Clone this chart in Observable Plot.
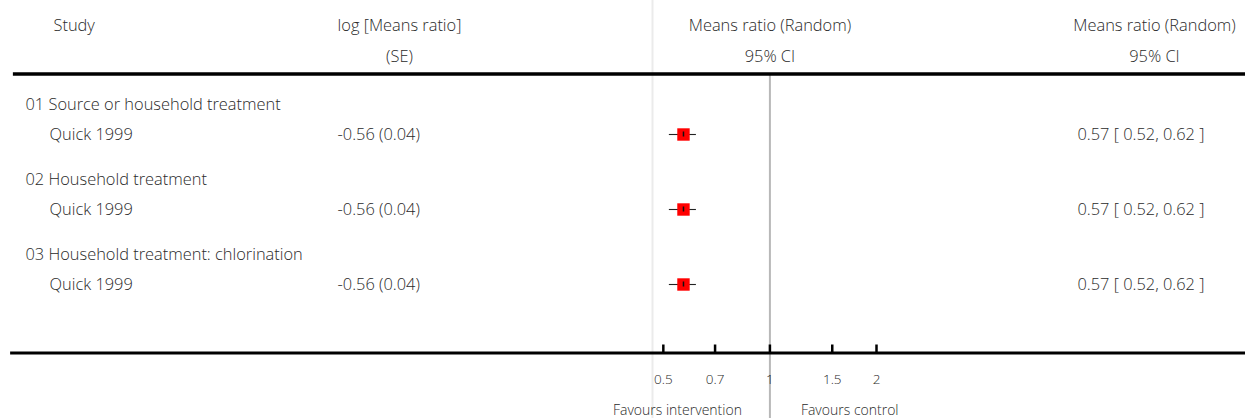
<!DOCTYPE html>
<html>
<head>
<meta charset="utf-8">
<script src="https://cdn.jsdelivr.net/npm/d3@7"></script>
<script src="https://cdn.jsdelivr.net/npm/@observablehq/plot@0.6"></script>
<style>
  html, body { margin: 0; padding: 0; background: #fff; }
  svg { display: block; }
</style>
</head>
<body>
<div id="chart"></div>
<script>
// ---- data ----
const groups = ["01 Source or household treatment", "02 Household treatment", "03 Household treatment: chlorination"];
const studies = ["Quick 1999", "Quick 1999", "Quick 1999"];
const logMeansRatio = [-0.56, -0.56, -0.56];
const logSE = [0.04, 0.04, 0.04];
const ratio = [0.57, 0.57, 0.57];
const ciLow = [0.52, 0.52, 0.52];
const ciHigh = [0.62, 0.62, 0.62];
const tickValues = [0.5, 0.7, 1, 1.5, 2];
const tickLabels = ["0.5", "0.7", "1", "1.5", "2"];
const headers1 = ["Study", "log [Means ratio]", "Means ratio (Random)", "Means ratio (Random)"];
const headers2 = ["", "(SE)", "95% CI", "95% CI"];
const favours = ["Favours intervention", "Favours control"];

// ---- layout (pixels) ----
const W = 1245, H = 418;
const groupY = i => 104 + 75 * i;
const studyY = i => 134 + 75 * i;
const topRuleY = 73.5, bottomRuleY = 352.5;
const font = "'Open Sans', Lato, sans-serif";
const ink = "#2a2a2a";
const fw = 300;
const fs = 16.4;

const rows = groups.map((g, i) => ({
  group: g, study: studies[i], lmr: logMeansRatio[i], se: logSE[i],
  r: ratio[i], lo: ciLow[i], hi: ciHigh[i], gy: groupY(i), sy: studyY(i)
}));
const fmt2 = v => d3.format(".2f")(v).replace("\u2212", "-");

const T = (data, opts) => Plot.text(data, {fontSize: fs, fill: ink, fontWeight: fw, ...opts});

const chart = Plot.plot({
  width: W, height: H,
  marginTop: 0, marginBottom: 0, marginLeft: 0, marginRight: 0,
  style: {fontFamily: font, color: ink, background: "#fff"},
  x: {type: "log", domain: [0.466, 2], range: [652, 876], axis: null},
  y: {type: "linear", domain: [0, H], range: [0, H], axis: null},
  marks: [
    // panel boundary and line of no effect
    Plot.ruleX([0.466], {y1: 0, y2: H, stroke: "#ebebeb", strokeWidth: 2}),
    Plot.ruleX([1], {y1: topRuleY, y2: H, stroke: "#b8b8b8", strokeWidth: 2}),
    // header rules
    Plot.ruleY([topRuleY], {x1: 0.0073, x2: 25, stroke: "#000", strokeWidth: 3.5}),
    Plot.ruleY([bottomRuleY], {x1: 0.00717, x2: 25, stroke: "#000", strokeWidth: 3}),
    // header texts
    T([headers1[0]], {frameAnchor: "left", dx: 53, y: 25, text: d => d, textAnchor: "start"}),
    T([headers1[1]], {frameAnchor: "left", dx: 399, y: 25, text: d => d, textAnchor: "middle"}),
    T([headers2[1]], {frameAnchor: "left", dx: 399, y: 56, text: d => d, textAnchor: "middle"}),
    T([headers1[2]], {x: 1, y: 25, text: d => d, textAnchor: "middle"}),
    T([headers2[2]], {x: 1, y: 56, text: d => d, textAnchor: "middle"}),
    T([headers1[3]], {frameAnchor: "left", dx: 1154, y: 25, text: d => d, textAnchor: "middle"}),
    T([headers2[3]], {frameAnchor: "left", dx: 1154, y: 56, text: d => d, textAnchor: "middle"}),
    // group labels
    T(rows, {frameAnchor: "left", dx: 25, y: "gy", text: "group", textAnchor: "start"}),
    // study rows
    T(rows, {frameAnchor: "left", dx: 49, y: "sy", text: "study", textAnchor: "start"}),
    T(rows, {frameAnchor: "left", dx: 337, y: "sy", text: d => `${fmt2(d.lmr)} (${fmt2(d.se)})`, textAnchor: "start"}),
    T(rows, {frameAnchor: "left", dx: 1077, y: "sy", text: d => `${fmt2(d.r)} [ ${fmt2(d.lo)}, ${fmt2(d.hi)} ]`, textAnchor: "start"}),
    // CI lines, squares and point tick
    Plot.ruleY(rows, {y: "sy", x1: "lo", x2: "hi", stroke: "#222", strokeWidth: 1.1}),
    Plot.dot(rows, {x: "r", y: "sy", symbol: "square", r: 7, fill: "#ff0000", stroke: "none"}),
    Plot.ruleX(rows, {x: "r", y1: d => d.sy - 2.5, y2: d => d.sy + 2.5, stroke: "#111", strokeWidth: 1.5}),
    // axis ticks and labels
    Plot.ruleX(tickValues, {x: d => d, y1: bottomRuleY - 8, y2: bottomRuleY, stroke: "#000", strokeWidth: 2.5}),
    T(tickValues, {x: d => d, y: 379, text: (d, i) => tickLabels[i], fontSize: 13.5, textAnchor: "middle"}),
    // favours labels
    T([favours[0]], {x: 1, dx: -28, y: 410, text: d => d, fontSize: 14, textAnchor: "end"}),
    T([favours[1]], {x: 1, dx: 31, y: 410, text: d => d, fontSize: 14, textAnchor: "start"})
  ]
});
document.getElementById("chart").appendChild(chart);
</script>
</body>
</html>
